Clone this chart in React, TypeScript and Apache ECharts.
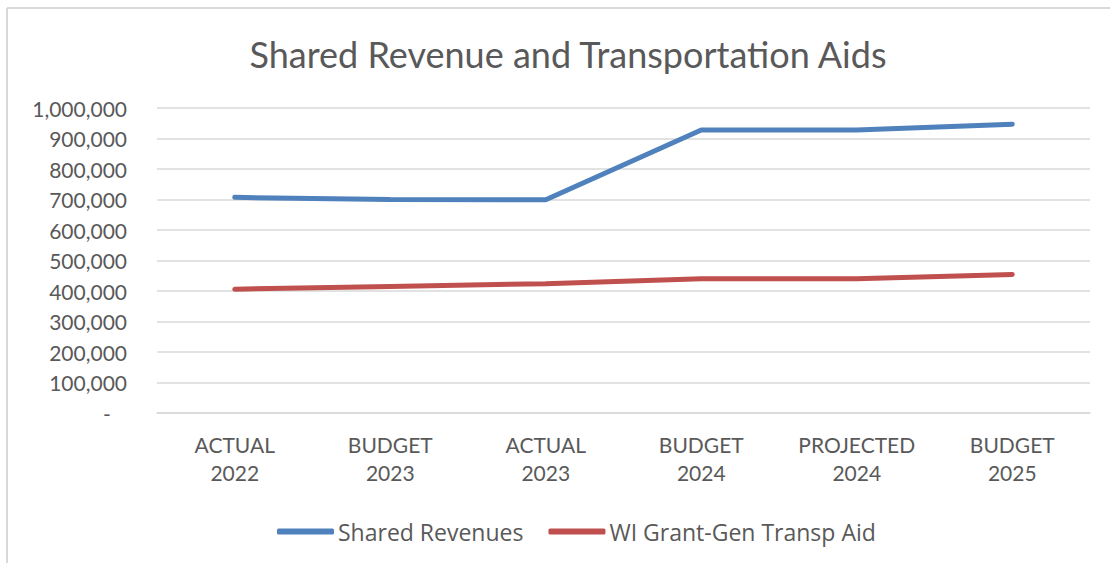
import React, { useEffect, useRef } from "react";
import * as echarts from "echarts";

const categories = ["ACTUAL\n2022", "BUDGET\n2023", "ACTUAL\n2023", "BUDGET\n2024", "PROJECTED\n2024", "BUDGET\n2025"];
const sharedRevenues = [707000, 700000, 699000, 928000, 928000, 947000];
const transpAid = [406000, 415000, 424000, 440000, 440000, 454000];
const seriesNames = ["Shared Revenues", "WI Grant-Gen Transp Aid"];
const titleText = "Shared Revenue and Transportation Aids";

const FONT = "Lato, 'Noto Sans', sans-serif";
const GRAY = "#595959";

export default function App() {
  const ref = useRef<HTMLDivElement>(null);
  useEffect(() => {
    if (!ref.current) return;
    const chart = echarts.init(ref.current, null, { renderer: "svg" });
    chart.setOption({
      animation: false,
      backgroundColor: "#ffffff",
      title: {
        text: titleText,
        left: 563,
        top: 31,
        textAlign: "center",
        textStyle: { fontFamily: FONT, fontSize: 36, fontWeight: "normal", color: GRAY },
      },
      graphic: [
        { type: "line", shape: { x1: 7, y1: 8, x2: 1110, y2: 8 }, style: { stroke: "#d9d9d9", lineWidth: 2 } },
        { type: "line", shape: { x1: 7, y1: 8, x2: 7, y2: 563 }, style: { stroke: "#d9d9d9", lineWidth: 2 } },
      ],
      legend: {
        data: seriesNames,
        left: 272,
        top: 515,
        icon: "roundRect",
        itemWidth: 57,
        itemHeight: 6,
        itemGap: 25,
        textStyle: { fontFamily: "'Open Sans', sans-serif", fontSize: 23, color: GRAY, padding: [0, 0, 0, -1] },
      },
      grid: { left: 157, right: 20, top: 108, bottom: 150, containLabel: false },
      xAxis: {
        type: "category",
        data: categories,
        boundaryGap: true,
        axisLine: { show: true, lineStyle: { color: "#d9d9d9", width: 1.5 } },
        axisTick: { show: false },
        axisLabel: { fontFamily: FONT, fontSize: 21, color: GRAY, lineHeight: 28, margin: 17 },
      },
      yAxis: {
        type: "value",
        min: 0,
        max: 1000000,
        interval: 100000,
        axisLine: { show: false },
        axisTick: { show: false },
        splitLine: { lineStyle: { color: "#d9d9d9", width: 1.5 } },
        axisLabel: {
          fontFamily: FONT,
          fontSize: 21,
          color: GRAY,
          margin: 30,
          formatter: (v: number) => (v === 0 ? "-   " : v.toLocaleString("en-US")),
        },
      },
      series: [
        {
          name: seriesNames[0],
          type: "line",
          data: sharedRevenues,
          symbol: "none",
          lineStyle: { color: "#4F81BD", width: 5, cap: "round" },
          itemStyle: { color: "#4F81BD" },
        },
        {
          name: seriesNames[1],
          type: "line",
          data: transpAid,
          symbol: "none",
          lineStyle: { color: "#C0504D", width: 5, cap: "round" },
          itemStyle: { color: "#C0504D" },
        },
      ],
    });
    return () => chart.dispose();
  }, []);
  return <div ref={ref} style={{ position: "fixed", left: 0, top: 0, width: 1110, height: 563 }} />;
}
